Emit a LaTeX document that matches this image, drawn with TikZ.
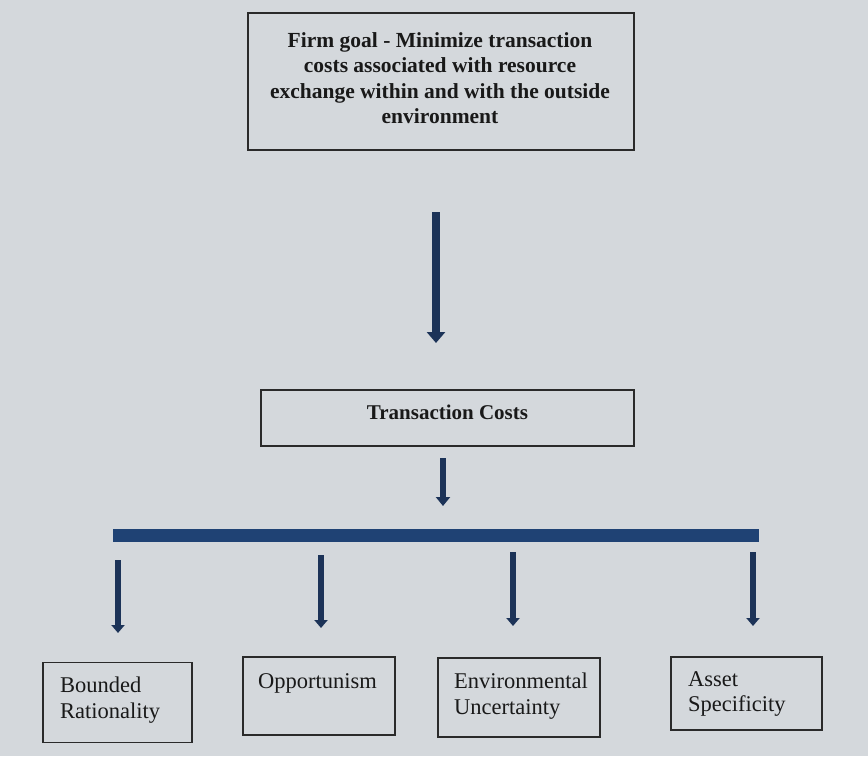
\documentclass[tikz,border=0pt]{standalone}
\usepackage{fontspec}
\setmainfont{Liberation Serif}
\usetikzlibrary{arrows.meta,calc}
\definecolor{paper}{HTML}{D4D8DC}
\definecolor{navy}{HTML}{1C3358}
\definecolor{barblue}{HTML}{1F4274}
\definecolor{edge}{HTML}{2A2A2A}
\tikzset{
  box/.style={draw=edge,line width=1.6pt,inner sep=0pt},
  boxtxt/.style={font=\fontsize{22.5}{25.3}\selectfont,text=black!90,inner sep=0pt,align=left},
  bigarrow/.style={navy,line width=8.5pt,-{Triangle[width=18pt,length=11pt]}},
  midarrow/.style={navy,line width=6.5pt,-{Triangle[width=14pt,length=9pt]}},
  smallarrow/.style={navy,line width=6pt,-{Triangle[width=13pt,length=8pt]}},
}
\begin{document}
\begin{tikzpicture}[x=1pt,y=-1pt]
\fill[paper] (0,0) rectangle (868,756);
\useasboundingbox (0,0) rectangle (868,756);
% top box
\node[box,minimum width=386pt,minimum height=137pt] (goal) at (441,81.5) {};
\node[boxtxt,align=center,font=\fontsize{21.5}{25.5}\selectfont\bfseries] (goaltxt) at (440,78)
 {Firm goal - Minimize transaction\\costs associated with resource\\exchange within and with the outside\\environment};
% transaction costs
\node[box,minimum width=373pt,minimum height=56pt] (tc) at (447.5,418) {};
\node[boxtxt,font=\fontsize{21}{25}\selectfont\bfseries] (tctxt) at (447.5,412) {Transaction Costs};
% arrows
\coordinate (a1s) at (436,212);
\coordinate (a1e) at (436,343);
\draw[bigarrow] (a1s) -- (a1e);
\coordinate (a2s) at (443,458);
\coordinate (a2e) at (443,506);
\draw[midarrow] (a2s) -- (a2e);
% bar
\node[fill=barblue,minimum width=646pt,minimum height=13pt,inner sep=0pt] (bar) at (436,535) {};
% bottom boxes
\node[box,minimum width=149pt,minimum height=80pt] (b1) at (117.5,702.5) {};
\node[box,minimum width=152pt,minimum height=78pt] (b2) at (319,696) {};
\node[box,minimum width=162pt,minimum height=79pt] (b3) at (519,697.5) {};
\node[box,minimum width=151pt,minimum height=73pt] (b4) at (746.5,693.5) {};
\node[boxtxt,anchor=north west] (t1) at (60,677) {Bounded\\Rationality};
\node[boxtxt,anchor=north west] (t2) at (258,673) {Opportunism};
\node[boxtxt,anchor=north west] (t3) at (454,673) {Environmental\\Uncertainty};
\node[boxtxt,anchor=north west] (t4) at (688,671) {Asset\\Specificity};
% small arrows
\coordinate (s1) at (118,560); \coordinate (e1) at (118,633);
\coordinate (s2) at (321,555); \coordinate (e2) at (321,628);
\coordinate (s3) at (513,552); \coordinate (e3) at (513,626);
\coordinate (s4) at (753,552); \coordinate (e4) at (753,626);
\draw[smallarrow] (s1) -- (e1);
\draw[smallarrow] (s2) -- (e2);
\draw[smallarrow] (s3) -- (e3);
\draw[smallarrow] (s4) -- (e4);
\end{tikzpicture}
\end{document}
